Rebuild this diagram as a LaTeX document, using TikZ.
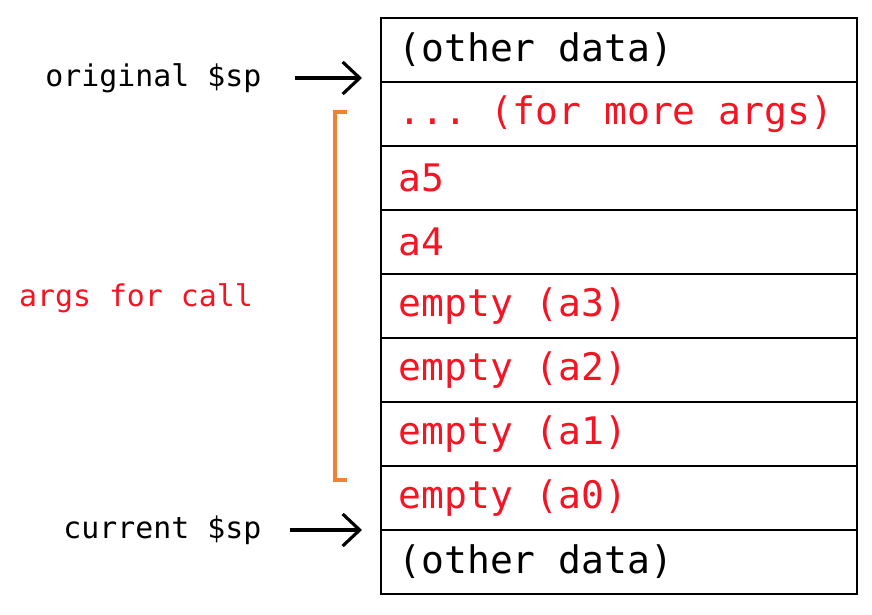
\documentclass[tikz,border=0pt]{standalone}
\usepackage{fontspec}
\setmonofont{DejaVu Sans Mono}
\usetikzlibrary{arrows.meta}
\definecolor{argred}{RGB}{245,20,35}
\definecolor{bracketorange}{RGB}{240,130,50}
\tikzset{
  cell/.style={draw,line width=0.6pt,anchor=north west,minimum width=4.76cm,minimum height=0.64cm},
  celltext/.style={anchor=west,xshift=0.18cm,inner sep=0pt,font=\ttfamily\fontsize{10.8}{12}\selectfont},
  argtext/.style={celltext,text=argred},
  splabel/.style={inner sep=0pt,font=\ttfamily\fontsize{8.5}{10}\selectfont},
  sparrow/.style={line width=0.9pt,-{Straight Barb[length=1.7mm,width=3.2mm,line width=0.9pt]}}
}
\begin{document}
\begin{tikzpicture}
\useasboundingbox (0,0) rectangle (8.72,6.14);
%stack, top to bottom
\node[cell,label={[celltext]west:(other data)}] (row0) at (3.80,5.97) {};
\node[cell,label={[argtext]west:... (for more args)}] (row1) at (3.80,5.33) {};
\node[cell,label={[argtext]west:a5}] (row2) at (3.80,4.69) {};
\node[cell,label={[argtext]west:a4}] (row3) at (3.80,4.05) {};
\node[cell,label={[argtext]west:empty (a3)}] (row4) at (3.80,3.41) {};
\node[cell,label={[argtext]west:empty (a2)}] (row5) at (3.80,2.77) {};
\node[cell,label={[argtext]west:empty (a1)}] (row6) at (3.80,2.13) {};
\node[cell,label={[argtext]west:empty (a0)}] (row7) at (3.80,1.49) {};
\node[cell,label={[celltext]west:(other data)}] (row8) at (3.80,0.85) {};

%stack pointers
\node[splabel,anchor=east] (origsp) at (2.62,5.36) {original \$sp};
\node[splabel,anchor=east] (cursp) at (2.62,0.84) {current \$sp};
\coordinate (origtip) at (3.62,5.36);
\coordinate (curtip) at (3.62,0.84);
\draw[sparrow,shorten <=0.33cm] (origsp.east) -- (origtip);
\draw[sparrow,shorten <=0.28cm] (cursp.east) -- (curtip);

%bracket
\coordinate (brtop) at (3.47,5.02);
\coordinate (brbot) at (3.47,1.34);
\draw[bracketorange,line width=0.9pt] (brtop) -- ++(-0.12,0) |- (brbot);
\node[splabel,text=argred] (argslbl) at (1.36,3.16) {args for call};
\end{tikzpicture}
\end{document}
